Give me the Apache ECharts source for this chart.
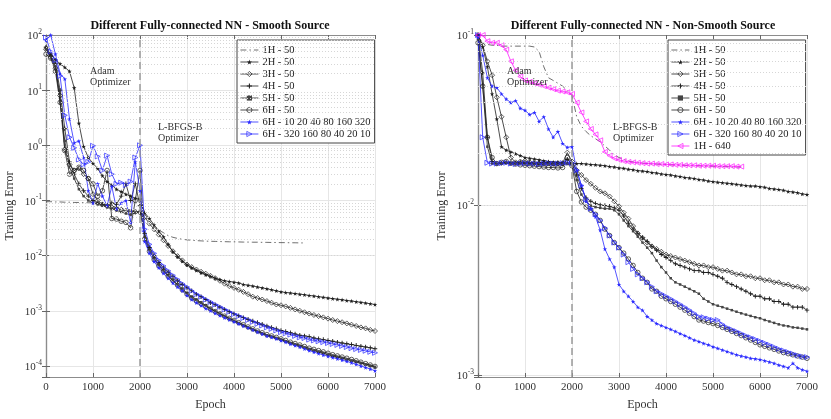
<!DOCTYPE html>
<html>
<head>
<meta charset="utf-8">
<script src="https://cdn.jsdelivr.net/npm/echarts@6/dist/echarts.min.js"></script>
<style>
html, body { margin: 0; padding: 0; background: #fff; }
#chart { width: 831px; height: 419px; }
</style>
</head>
<body>
<div id="chart"></div>
<script>
// epochs (every 100)
var epochs = [0,100,200,300,400,500,600,700,800,900,
    1000,1100,1200,1300,1400,1500,1600,1700,1800,1900,
    2000,2100,2200,2300,2400,2500,2600,2700,2800,2900,
    3000,3100,3200,3300,3400,3500,3600,3700,3800,3900,
    4000,4100,4200,4300,4400,4500,4600,4700,4800,4900,
    5000,5100,5200,5300,5400,5500,5600,5700,5800,5900,
    6000,6100,6200,6300,6400,6500,6600,6700,6800,6900,
    7000];
var switchEpoch = 2000;

// legend names
var namesLeft = ['1H - 50', '2H - 50', '3H - 50', '4H - 50', '5H - 50', '6H - 50',
    '6H - 10 20 40 80 160 320', '6H - 320 160 80 40 20 10'];
var namesRight = namesLeft.concat(['1H - 640']);

// ---- smooth source (left) ----
var smooth1H50 = [0.095,0.095,0.094,0.094,0.093,0.093,0.092,0.092,0.091,0.091,
    0.09,0.088,0.085,0.082,0.079,0.076,0.073,0.07,0.067,0.064,
    0.061,0.052,0.042,0.035,0.029,0.026,0.023,0.0215,0.0205,0.0198,
    0.0193,0.019,0.0187,0.0185,0.0183,0.0182,0.0181,0.018,0.0179,0.0178,
    0.0178,0.0177,0.0176,0.0176,0.0175,0.0175,0.0174,0.0174,0.0173,0.0173,
    0.0172,0.0172,0.0171,0.0171,0.017,0.017];
var smooth2H50 = [60,45,36,30,26,22,11,2.5,0.95,0.6,
    0.47,0.38,0.28,0.22,0.19,0.16,0.145,0.13,0.12,0.11,
    0.105,0.06,0.047,0.036,0.028,0.022,0.016,0.0118,0.0095,0.0079,
    0.0068,0.006,0.0054,0.0049,0.0045,0.0042,0.0039,0.0037,0.0035,0.0034,
    0.0033,0.0032,0.003,0.0029,0.0028,0.0027,0.0026,0.0025,0.0024,0.0023,
    0.0022,0.00215,0.0021,0.00205,0.002,0.00195,0.0019,0.00185,0.0018,0.00175,
    0.0017,0.00166,0.00162,0.00158,0.00154,0.0015,0.00146,0.00142,0.00138,0.00134,
    0.0013];
var smooth3H50 = [55,40,25,8,0.85,0.45,0.35,0.38,0.3,0.25,
    0.13,0.1,0.085,0.08,0.075,0.07,0.068,0.065,0.063,0.062,
    0.06,0.05,0.038,0.03,0.024,0.019,0.015,0.012,0.0098,0.0082,
    0.0069,0.0062,0.0056,0.0051,0.0047,0.0043,0.0039,0.0035,0.0031,0.0028,
    0.0026,0.0024,0.0022,0.002,0.0018,0.0017,0.0016,0.0015,0.0014,0.0013,
    0.00126,0.0012,0.00113,0.00106,0.001,0.00094,0.00089,0.00084,0.0008,0.00076,
    0.00072,0.00068,0.00065,0.00062,0.00059,0.00056,0.00053,0.0005,0.00048,0.00045,
    0.00043];
var smooth4H50 = [60,42,30,10,2,0.5,0.3,0.2,0.15,0.12,
    0.1,0.09,0.085,0.08,0.09,0.085,0.12,0.2,0.1,0.2,
    0.08,0.025,0.014,0.01,0.0075,0.006,0.005,0.0042,0.0035,0.003,
    0.0026,0.0023,0.002,0.0018,0.0016,0.0014,0.00128,0.00116,0.00105,0.00096,
    0.00088,0.00081,0.00075,0.0007,0.00065,0.00061,0.00057,0.00053,0.0005,0.00047,
    0.00044,0.00042,0.0004,0.00038,0.00036,0.00035,0.00034,0.00032,0.00031,0.0003,
    0.00029,0.00028,0.00027,0.00026,0.000252,0.000244,0.000236,0.000228,0.00022,0.000213,
    0.000205];
var smooth5H50 = [55,40,28,6,1.2,0.4,0.25,0.16,0.12,0.1,
    0.09,0.085,0.08,0.075,0.07,0.066,0.062,0.058,0.055,0.06,
    0.065,0.022,0.013,0.009,0.0068,0.0054,0.0044,0.0036,0.003,0.0025,
    0.0021,0.0018,0.0016,0.0014,0.00125,0.0011,0.00099,0.00089,0.0008,0.00072,
    0.00066,0.0006,0.00055,0.0005,0.00046,0.00042,0.00039,0.00036,0.00034,0.00032,
    0.0003,0.00028,0.00026,0.000245,0.00023,0.000215,0.0002,0.00019,0.00018,0.00017,
    0.00016,0.000152,0.000145,0.000138,0.000131,0.000125,0.000119,0.000113,0.000107,0.000101,
    0.000096];
var smooth6H50 = [45,38,22,6,0.8,0.3,0.35,0.4,0.35,0.25,
    0.2,0.12,0.15,0.35,0.047,0.046,0.042,0.04,0.032,0.1,
    0.35,0.02,0.012,0.0085,0.0065,0.0052,0.0042,0.0035,0.0029,0.0024,
    0.002,0.0017,0.0015,0.00135,0.0012,0.00108,0.00097,0.00088,0.0008,0.00073,
    0.00067,0.00061,0.00056,0.00051,0.00047,0.00043,0.0004,0.00037,0.00035,0.00033,
    0.00031,0.00029,0.00027,0.000255,0.00024,0.000225,0.00021,0.0002,0.00019,0.00018,
    0.00017,0.00016,0.000152,0.000145,0.000138,0.000131,0.000124,0.000117,0.00011,0.000104,
    0.000098];
var smooth6HInc = [80,100,45,20,16,3,1.1,1.2,0.6,0.15,
    0.09,0.2,0.12,0.08,0.18,0.07,0.09,0.1,0.04,0.5,
    0.15,0.018,0.011,0.0078,0.006,0.0048,0.0039,0.0032,0.0027,0.0023,
    0.0019,0.0016,0.0014,0.00125,0.0011,0.001,0.0009,0.00082,0.00075,0.00069,
    0.00063,0.00058,0.00053,0.00049,0.00045,0.00041,0.00038,0.00035,0.00033,0.00031,
    0.00029,0.00027,0.00025,0.000235,0.00022,0.000205,0.00019,0.000178,0.000168,0.000158,
    0.00015,0.000142,0.000135,0.000128,0.000121,0.000114,0.000107,0.0001,0.000094,0.000088,
    0.000082];
var smooth6HDec = [90,50,35,18,3.5,1.4,0.9,0.55,0.45,0.5,
    0.98,0.63,0.35,0.65,0.3,0.2,0.21,0.19,0.22,0.6,
    1.0,0.03,0.016,0.011,0.0082,0.0065,0.0053,0.0044,0.0037,0.0031,
    0.0027,0.0023,0.002,0.0018,0.0016,0.00145,0.0013,0.00118,0.00106,0.00096,
    0.00087,0.0008,0.00074,0.00068,0.00063,0.00058,0.00054,0.0005,0.00047,0.00044,
    0.00041,0.00039,0.00037,0.00035,0.00033,0.00032,0.0003,0.00029,0.00028,0.00027,
    0.00026,0.00025,0.00024,0.00023,0.00022,0.00021,0.000202,0.000195,0.000188,0.00018,
    0.000173];

// ---- non-smooth source (right) ----
var rough1H50 = [0.098,0.09,0.088,0.087,0.087,0.086,0.086,0.086,0.086,0.086,
    0.086,0.086,0.085,0.08,0.065,0.056,0.054,0.052,0.05,0.047,
    0.044,0.033,0.029,0.027,0.0255,0.0245,0.0235,0.0222,0.021,0.0197,
    0.019,0.0185,0.0181,0.0179,0.0177,0.0176,0.0175,0.0174,0.0174,0.0173,
    0.0173,0.0172,0.0172,0.0171,0.0171,0.017,0.017,0.017,0.0169,0.0169,
    0.0169,0.0168,0.0168,0.0168,0.0167,0.0167,0.0167];
var rough2H50 = [0.1,0.085,0.065,0.045,0.032,0.022,0.021,0.0205,0.02,0.0195,
    0.019,0.0188,0.0186,0.0184,0.0182,0.018,0.0179,0.0178,0.0177,0.0176,
    0.0176,0.0175,0.0175,0.0174,0.0173,0.0172,0.0171,0.017,0.0168,0.0167,
    0.0165,0.0164,0.0162,0.0161,0.0159,0.0158,0.0157,0.0155,0.0154,0.0152,
    0.0151,0.015,0.0148,0.0147,0.0145,0.0144,0.0143,0.0141,0.014,0.0138,
    0.0137,0.0136,0.0135,0.0134,0.0133,0.0132,0.0131,0.013,0.0129,0.0129,
    0.0128,0.0127,0.0125,0.0124,0.0123,0.0122,0.012,0.0119,0.0118,0.0116,
    0.0115];
var rough3H50 = [0.1,0.087,0.07,0.058,0.043,0.033,0.025,0.019,0.0178,0.018,
    0.0182,0.0178,0.0176,0.0175,0.0176,0.0175,0.0174,0.0175,0.0176,0.0203,
    0.018,0.016,0.015,0.014,0.0133,0.0126,0.012,0.0117,0.0112,0.0105,
    0.0098,0.009,0.0083,0.0075,0.0068,0.0064,0.006,0.0057,0.0055,0.0053,
    0.0051,0.005,0.0049,0.0048,0.0047,0.0046,0.0045,0.0044,0.0044,0.0043,
    0.0043,0.0042,0.0041,0.0041,0.004,0.0039,0.0039,0.0038,0.0038,0.0037,
    0.0037,0.0036,0.0036,0.0035,0.0035,0.0034,0.0034,0.0033,0.0033,0.0032,
    0.0032];
var rough4H50 = [0.1,0.06,0.025,0.018,0.0175,0.0176,0.0178,0.0177,0.0176,0.0178,
    0.0177,0.0178,0.0176,0.0177,0.0178,0.0177,0.0176,0.0177,0.0175,0.0185,
    0.0175,0.015,0.0125,0.011,0.0105,0.0102,0.01,0.0099,0.0098,0.0096,
    0.0093,0.0086,0.0078,0.0072,0.0068,0.0064,0.0061,0.0057,0.0054,0.0051,
    0.0049,0.0047,0.0045,0.0044,0.0043,0.0042,0.0041,0.0041,0.004,0.004,
    0.0039,0.0038,0.0037,0.0035,0.0034,0.0033,0.0032,0.0031,0.003,0.0029,
    0.0029,0.0028,0.0028,0.0027,0.0027,0.0026,0.0026,0.0025,0.0025,0.0025,
    0.0024];
var rough5H50 = [0.095,0.05,0.022,0.0175,0.0174,0.0175,0.0176,0.0174,0.0175,0.0176,
    0.0175,0.0174,0.0175,0.0174,0.0173,0.0174,0.0173,0.0172,0.0173,0.0174,
    0.0172,0.014,0.0115,0.0105,0.0099,0.0097,0.0096,0.0095,0.0095,0.0093,
    0.0088,0.0081,0.0075,0.007,0.0065,0.006,0.0056,0.0052,0.0047,0.0043,
    0.004,0.0037,0.0035,0.0034,0.0033,0.0032,0.0031,0.003,0.0028,0.0027,
    0.0026,0.00255,0.0025,0.00245,0.0024,0.00235,0.0023,0.00226,0.00222,0.00218,
    0.00215,0.0021,0.00206,0.00202,0.00198,0.00195,0.00193,0.0019,0.00189,0.00187,
    0.00185];
var rough6H50 = [0.09,0.05,0.025,0.019,0.0175,0.0178,0.018,0.0176,0.0174,0.0172,
    0.0171,0.017,0.0169,0.0168,0.0167,0.0166,0.0166,0.0165,0.0166,0.019,
    0.017,0.012,0.0104,0.0097,0.0093,0.0088,0.0081,0.0072,0.0066,0.006,
    0.0056,0.0052,0.0048,0.0044,0.004,0.0037,0.0035,0.0032,0.0031,0.0029,
    0.0028,0.0027,0.0026,0.0025,0.0024,0.0023,0.0022,0.0021,0.00207,0.00203,
    0.002,0.00195,0.0019,0.00185,0.0018,0.00175,0.0017,0.00165,0.0016,0.00155,
    0.0015,0.00147,0.00144,0.00141,0.00138,0.00135,0.00133,0.00131,0.00129,0.00127,
    0.00125];
var rough6HInc = [0.097,0.076,0.056,0.05,0.049,0.045,0.042,0.04,0.041,0.037,
    0.036,0.034,0.035,0.031,0.033,0.028,0.025,0.027,0.023,0.0218,
    0.022,0.016,0.013,0.0105,0.0095,0.0085,0.0071,0.0055,0.0048,0.0043,
    0.0034,0.0031,0.0029,0.0027,0.0025,0.0024,0.0022,0.0021,0.002,0.00195,
    0.0019,0.00185,0.0018,0.00175,0.0017,0.00165,0.0016,0.00157,0.00153,0.0015,
    0.00146,0.00143,0.0014,0.00137,0.00134,0.00131,0.00129,0.00127,0.00125,0.00124,
    0.00123,0.00121,0.00119,0.00117,0.00114,0.00112,0.0011,0.00117,0.0011,0.00107,
    0.00105];
var rough6HDec = [0.1,0.025,0.0177,0.0175,0.0175,0.0176,0.0177,0.0175,0.0174,0.0175,
    0.0176,0.0175,0.0175,0.0174,0.0175,0.0176,0.0175,0.0175,0.0176,0.0177,
    0.0176,0.016,0.013,0.0108,0.0095,0.0088,0.0081,0.0073,0.0066,0.006,
    0.0056,0.0051,0.0046,0.0042,0.0039,0.0037,0.0035,0.0033,0.0031,0.003,
    0.0029,0.0028,0.0027,0.0026,0.0025,0.0024,0.0023,0.0022,0.00218,0.00214,
    0.0021,0.0021,0.00198,0.0019,0.00185,0.0018,0.00175,0.0017,0.00166,0.00162,
    0.00158,0.00154,0.0015,0.00146,0.00142,0.00139,0.00136,0.00133,0.0013,0.00128,
    0.00127];
var rough1H640 = [0.1,0.1,0.092,0.09,0.09,0.087,0.082,0.07,0.062,0.057,
    0.054,0.053,0.052,0.051,0.05,0.049,0.048,0.047,0.0465,0.046,
    0.045,0.04,0.035,0.031,0.028,0.026,0.024,0.0205,0.0195,0.0188,
    0.0184,0.0181,0.0179,0.0178,0.0177,0.0176,0.0175,0.0175,0.0174,0.0174,
    0.0173,0.0173,0.0172,0.0172,0.0171,0.0171,0.0171,0.017,0.017,0.017,
    0.017,0.0169,0.0169,0.0169,0.0169,0.0168,0.0168];

var decadesLeft = [-5, -4, -3, -2, -1, 0, 1];
var decadesRight = [-4, -3, -2];

document.addEventListener('DOMContentLoaded', function () {
    var chart = echarts.init(document.getElementById('chart'));
    var serif = '"Liberation Serif", "DejaVu Serif", serif';
    var black = '#1e1e1e', blue = '#2a2aff', magenta = '#ff1aff', grayLine = '#4a4a4a';
    var clear = 'rgba(255,255,255,0)';
    var starPath = 'path://M50,0L61,35L98,35L68,57L79,91L50,70L21,91L32,57L2,35L39,35Z';
    var plusPath = 'path://M4,0H6V4H10V6H6V10H4V6H0V4H4Z';
    var dashDot = [6, 3, 1.5, 3];

    var styles = [
        { color: grayLine, symbol: 'none', dash: dashDot },
        { color: black, symbol: starPath, size: 4.5, fill: black },
        { color: black, symbol: 'diamond', size: 5, fill: clear, bw: 0.7 },
        { color: black, symbol: plusPath, size: 4.5, fill: black },
        { color: black, symbol: 'rect', size: 2.5, fill: '#444' },
        { color: black, symbol: 'circle', size: 4.5, fill: clear, bw: 0.7 },
        { color: blue, symbol: starPath, size: 4.5, fill: blue },
        { color: blue, symbol: 'triangle', size: 5, fill: clear, bw: 0.7, rotate: -90 },
        { color: magenta, symbol: 'triangle', size: 5, fill: clear, bw: 0.7, rotate: 90 }
    ];

    function pairs(vals) {
        return vals.map(function (v, i) { return [epochs[i], v]; });
    }

    function minorValues(decades, lo, hi) {
        var out = [];
        decades.forEach(function (d) {
            for (var k = 2; k <= 9; k++) {
                var v = k * Math.pow(10, d);
                if (v > lo && v < hi) out.push(v);
            }
        });
        return out;
    }

    function makeSeries(name, vals, gi, st) {
        return {
            type: 'line', name: name,
            xAxisIndex: gi * 2, yAxisIndex: gi * 2,
            data: pairs(vals),
            symbol: st.symbol, symbolSize: st.size || 4,
            symbolRotate: st.rotate || 0,
            showSymbol: st.symbol !== 'none',
            lineStyle: { color: st.color, width: 0.8, type: st.dash || 'solid' },
            itemStyle: { color: st.fill || st.color, borderColor: st.color, borderWidth: st.bw || 0 },
            emphasis: { disabled: true },
            silent: true, z: 3
        };
    }

    function logLabel(v) {
        var e = Math.log10(v);
        var r = Math.round(e);
        if (Math.abs(e - r) > 1e-6) return '';
        return '{b|10}{sup|' + r + '}';
    }

    var yMinL = 6.3e-5, yMaxL = 100, yMinR = 0.00097, yMaxR = 0.1;
    var axisColor = '#8c8c8c';

    function xAxisDef(gi, pos) {
        var bottom = pos === 'bottom';
        return {
            type: 'value', gridIndex: gi, position: pos, min: 0, max: 7000, interval: 1000,
            axisLine: { show: true, lineStyle: { color: axisColor, width: 1.2 } },
            axisTick: { show: true, inside: true, length: 4, lineStyle: { color: '#666' } },
            axisLabel: { show: bottom, fontFamily: serif, fontSize: 11, color: '#333', margin: 5,
                formatter: function (v) { return String(v); } },
            splitLine: { show: bottom, lineStyle: { color: '#e6e6e6', width: 1 } },
            name: bottom ? 'Epoch' : '', nameLocation: 'middle', nameGap: 22,
            nameTextStyle: { fontFamily: serif, fontSize: 12, color: '#333' }
        };
    }
    function yAxisDef(gi, pos, lo, hi) {
        var left = pos === 'left';
        return {
            type: 'log', logBase: 10, gridIndex: gi, position: pos, min: lo, max: hi,
            axisLine: { show: true, lineStyle: { color: axisColor, width: 1.2 } },
            axisTick: { show: true, inside: true, length: 4, lineStyle: { color: '#666' } },
            axisLabel: {
                show: left, formatter: logLabel, margin: 4, color: '#333', fontFamily: serif,
                rich: {
                    b: { fontFamily: serif, fontSize: 11, color: '#333', verticalAlign: 'bottom', lineHeight: 14 },
                    sup: { fontFamily: serif, fontSize: 7.5, color: '#333', verticalAlign: 'top', lineHeight: 8 }
                }
            },
            splitLine: { show: left, lineStyle: { color: '#e6e6e6', width: 1 } },
            name: left ? 'Training Error' : '', nameLocation: 'middle', nameGap: 30,
            nameTextStyle: { fontFamily: serif, fontSize: 12, color: '#333' }
        };
    }

    function guideSeries(gi, minors) {
        var lines = minors.map(function (v) { return { yAxis: v }; });
        lines.push({ xAxis: switchEpoch, lineStyle: { type: [7, 4], color: '#9a9a9a', width: 1.5 } });
        return {
            type: 'line', xAxisIndex: gi * 2, yAxisIndex: gi * 2, data: [], silent: true, z: 1,
            markLine: {
                silent: true, symbol: ['none', 'none'], animation: false, label: { show: false },
                lineStyle: { type: [1, 2], color: '#d6d6d6', width: 1 },
                data: lines
            }
        };
    }

    var leftVals = [smooth1H50, smooth2H50, smooth3H50, smooth4H50, smooth5H50, smooth6H50, smooth6HInc, smooth6HDec];
    var rightVals = [rough1H50, rough2H50, rough3H50, rough4H50, rough5H50, rough6H50, rough6HInc, rough6HDec, rough1H640];

    var series = [guideSeries(0, minorValues(decadesLeft, yMinL, yMaxL)),
                  guideSeries(1, minorValues(decadesRight, yMinR, yMaxR))];
    leftVals.forEach(function (vals, i) { series.push(makeSeries(namesLeft[i], vals, 0, styles[i])); });
    rightVals.forEach(function (vals, i) { series.push(makeSeries(namesRight[i], vals, 1, styles[i])); });

    function legendItems(names) {
        return names.map(function (n, i) {
            var st = styles[i];
            var none = st.symbol === 'none';
            var hollow = st.fill === clear;
            return {
                name: n,
                itemStyle: { color: none || hollow ? 'none' : (st.fill || st.color),
                    borderColor: none ? 'none' : st.color, borderWidth: st.bw || 0, opacity: none ? 0 : 1 },
                lineStyle: { color: st.color, width: 0.8, type: st.dash || 'solid' }
            };
        });
    }

    function legendDef(names, left) {
        return {
            data: legendItems(names), left: left, top: 40, orient: 'vertical', selectedMode: false,
            itemGap: 0, itemWidth: 18, itemHeight: 6.5,
            padding: [4, 4, 3, 3],
            borderColor: '#444', borderWidth: 1, backgroundColor: '#fff', borderRadius: 0,
            textStyle: { fontFamily: serif, fontSize: 10.5, color: '#222', lineHeight: 12, padding: [0, 0, 0, -1] }
        };
    }

    function label(x, y, text, opts) {
        opts = opts || {};
        return {
            type: 'text', x: x, y: y, silent: true, z: 10,
            style: {
                text: text, fill: opts.color || '#333',
                font: (opts.weight || 'normal') + ' ' + (opts.size || 10) + 'px ' + serif,
                textAlign: opts.align || 'left', textVerticalAlign: 'middle'
            }
        };
    }

    var option = {
        animation: false,
        backgroundColor: '#fff',
        grid: [
            { left: 46, right: 456, top: 35, bottom: 42 },
            { left: 478, right: 24, top: 35, bottom: 42 }
        ],
        xAxis: [xAxisDef(0, 'bottom'), xAxisDef(0, 'top'), xAxisDef(1, 'bottom'), xAxisDef(1, 'top')],
        yAxis: [yAxisDef(0, 'left', yMinL, yMaxL), yAxisDef(0, 'right', yMinL, yMaxL),
                yAxisDef(1, 'left', yMinR, yMaxR), yAxisDef(1, 'right', yMinR, yMaxR)],
        legend: [legendDef(namesLeft, 237), legendDef(namesRight, 668)],
        graphic: [
            label(210, 26, 'Different Fully-connected NN - Smooth Source', { weight: 'bold', size: 12, align: 'center', color: '#111' }),
            label(643, 26, 'Different Fully-connected NN - Non-Smooth Source', { weight: 'bold', size: 12, align: 'center', color: '#111' }),
            label(90, 71, 'Adam'), label(90, 82, 'Optimizer'),
            label(158, 127, 'L-BFGS-B'), label(158, 138, 'Optimizer'),
            label(507, 71, 'Adam'), label(507, 82, 'Optimizer'),
            label(613, 127, 'L-BFGS-B'), label(613, 138, 'Optimizer')
        ],
        series: series
    };

    chart.setOption(option);
});
</script>
</body>
</html>
